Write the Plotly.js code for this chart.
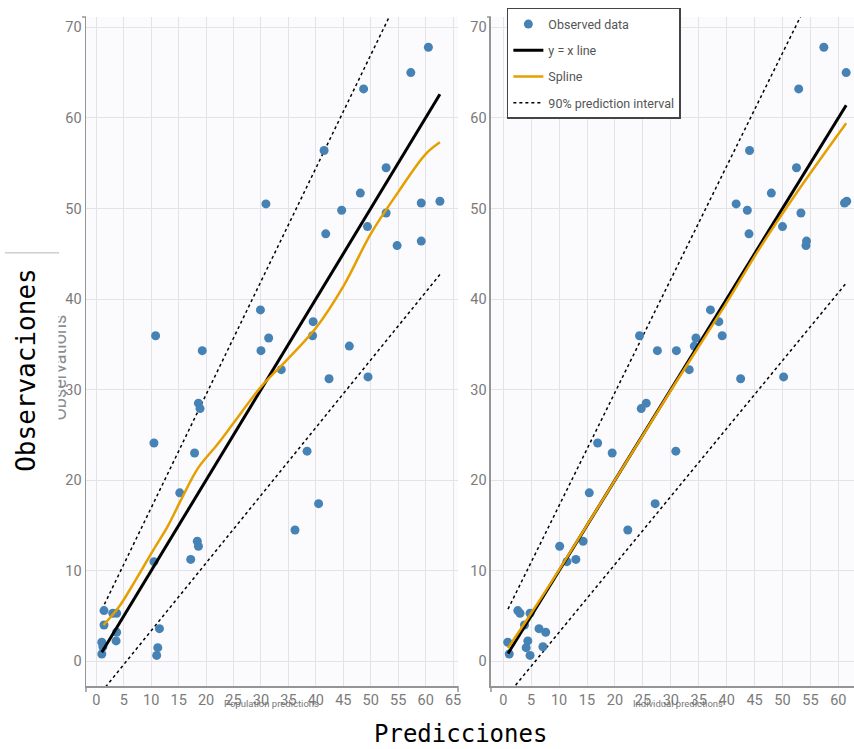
<!DOCTYPE html>
<html>
<head>
<meta charset="utf-8">
<script src="https://cdn.plot.ly/plotly-3.0.1.min.js"></script>
<style>
  html, body { margin: 0; padding: 0; background: #ffffff; }
  #chart { width: 854px; height: 749px; }
</style>
</head>
<body>
<div id="chart"></div>
<script>
// Observed concentrations and the two sets of model predictions (same subjects)
const observations = [67.8, 65.0, 63.2, 56.4, 54.5, 51.7, 50.5, 49.8, 49.5, 50.6,
                      50.8, 48.0, 47.2, 46.4, 45.9, 38.8, 37.5, 35.95, 35.95, 35.7,
                      34.8, 34.3, 34.3, 32.2, 31.2, 31.4, 28.5, 27.9, 24.1, 23.0,
                      23.2, 18.6, 17.4, 14.5, 13.25, 12.7, 11.25, 11.0, 5.6, 5.3,
                      5.3, 4.0, 3.6, 3.2, 2.25, 2.1, 1.5, 1.6, 0.8, 0.65];
const populationPred = [60.5, 57.3, 48.7, 41.5, 52.8, 48.1, 30.9, 44.7, 52.8, 59.2,
                        62.6, 49.4, 41.8, 59.2, 54.8, 29.9, 39.5, 10.8, 39.4, 31.4,
                        46.1, 30.0, 19.3, 33.7, 42.4, 49.5, 18.6, 18.9, 10.5, 17.9,
                        38.4, 15.2, 40.5, 36.2, 18.4, 18.6, 17.2, 10.5, 1.4, 3.0,
                        3.7, 1.4, 11.5, 3.7, 3.6, 1.0, 11.2, 1.2, 1.0, 11.0];
const individualPred = [57.4, 61.4, 52.9, 44.1, 52.5, 48.0, 41.7, 43.7, 53.3, 61.1,
                        61.5, 50.0, 44.0, 54.3, 54.2, 37.1, 38.6, 24.4, 39.2, 34.5,
                        34.2, 31.0, 27.6, 33.3, 42.5, 50.2, 25.6, 24.7, 16.9, 19.5,
                        30.9, 15.4, 27.2, 22.3, 14.3, 10.1, 13.0, 11.4, 2.6, 3.0,
                        4.8, 3.8, 6.4, 7.6, 4.4, 0.8, 4.1, 7.1, 1.07, 4.8];

// Identity line end points (prediction range of each panel)
const identityPop = [1.0, 62.6];
const identityInd = [0.85, 61.4];

// Smoothing spline through observed vs predicted
const splinePopX = [1.3, 4.0, 7.0, 10.4, 13.0, 15.5, 18.5, 22.0, 25.0, 30.0, 35.0, 40.0, 45.0, 50.0, 55.0, 60.0, 62.6];
const splinePopY = [4.0, 5.9, 8.8, 12.3, 14.9, 17.9, 21.3, 23.9, 26.3, 30.3, 33.45, 36.8, 41.4, 47.2, 51.8, 56.0, 57.3];
const splineIndX = [0.85, 5.0, 10.0, 20.0, 30.0, 40.0, 45.7, 52.5, 61.4];
const splineIndY = [1.45, 5.3, 10.1, 20.0, 29.9, 39.6, 45.4, 51.7, 59.4];

// 90% prediction interval bounds
const piPopX = [1.0, 62.6];
const piPopUpper = [5.7, 82.7];
const piPopLower = [-3.35, 42.7];
const piIndX = [0.85, 61.4];
const piIndUpper = [5.76, 81.4];
const piIndLower = [-3.66, 41.75];

const xTickLabelsPop = ['0','5','10','15','20','25','30','35','40','45','50','55','60','65'];
const xTickLabelsInd = ['0','5','10','15','20','25','30','35','40','45','50','55','60'];
const yTickLabels = ['0','10','20','30','40','50','60','70'];

const FONT = "Roboto, 'DejaVu Sans Condensed', sans-serif";
const MONO = "'DejaVu Sans Mono', monospace";
const BLUE = '#4682B4';
const ORANGE = '#E69F00';

function panel(xs, identity, sx, sy, piX, piUp, piLo, xa, ya, legend) {
  return [
    { x: piX, y: piUp, xaxis: xa, yaxis: ya, mode: 'lines', type: 'scatter',
      line: { color: '#000', width: 1.5, dash: 'dot' }, name: '90% prediction interval',
      legendgroup: 'pi', showlegend: legend, hoverinfo: 'skip' },
    { x: piX, y: piLo, xaxis: xa, yaxis: ya, mode: 'lines', type: 'scatter',
      line: { color: '#000', width: 1.5, dash: 'dot' }, name: '90% prediction interval',
      legendgroup: 'pi', showlegend: false, hoverinfo: 'skip' },
    { x: xs, y: observations, xaxis: xa, yaxis: ya, mode: 'markers', type: 'scatter',
      marker: { color: BLUE, size: 9 }, name: 'Observed data',
      legendgroup: 'obs', showlegend: legend },
    { x: identity, y: identity, xaxis: xa, yaxis: ya, mode: 'lines', type: 'scatter',
      line: { color: '#000', width: 3 }, name: 'y = x line',
      legendgroup: 'id', showlegend: legend },
    { x: sx, y: sy, xaxis: xa, yaxis: ya, mode: 'lines', type: 'scatter',
      line: { color: ORANGE, width: 2.5, shape: 'spline' }, name: 'Spline',
      legendgroup: 'sp', showlegend: legend }
  ];
}

const traces = [].concat(
  panel(populationPred, identityPop, splinePopX, splinePopY, piPopX, piPopUpper, piPopLower, 'x', 'y', true),
  panel(individualPred, identityInd, splineIndX, splineIndY, piIndX, piIndUpper, piIndLower, 'x2', 'y2', false)
);
// legend order: observed, identity, spline, interval
traces[0].legendrank = 4; traces[2].legendrank = 1; traces[3].legendrank = 2; traces[4].legendrank = 3;

const tickFont = { family: FONT, size: 14.5, color: '#7a7a7a' };
function axis(extra) {
  return Object.assign({
    showgrid: true, gridcolor: '#e3e3e6', gridwidth: 1,
    showline: true, linecolor: '#959595', linewidth: 1.5,
    zeroline: false, ticks: '', tickfont: tickFont, fixedrange: true
  }, extra);
}
const yVals = yTickLabels.map(Number);

const layout = {
  width: 854, height: 749,
  margin: { l: 86, r: 0, t: 17, b: 63, pad: 0 },
  paper_bgcolor: '#ffffff',
  plot_bgcolor: '#fbfbfd',
  showlegend: true,
  legend: {
    x: 0.548, y: 1.0135, xanchor: 'left', yanchor: 'top',
    bgcolor: '#ffffff', bordercolor: '#444', borderwidth: 1.5,
    font: { family: FONT, size: 12.5, color: '#555' },
    traceorder: 'grouped', tracegroupgap: 7
  },
  xaxis: axis({ domain: [0, 0.4844], range: [-1.88, 65.9], anchor: 'y',
                tickmode: 'array', tickvals: xTickLabelsPop.map(Number), ticktext: xTickLabelsPop }),
  yaxis: axis({ range: [-2.73, 71.14], anchor: 'x',
                tickmode: 'array', tickvals: yVals, ticktext: yTickLabels }),
  xaxis2: axis({ domain: [0.5273, 1], range: [-2.2, 62.8], anchor: 'y2',
                 tickmode: 'array', tickvals: xTickLabelsInd.map(Number), ticktext: xTickLabelsInd }),
  yaxis2: axis({ range: [-2.73, 71.14], anchor: 'x2',
                 tickmode: 'array', tickvals: yVals, ticktext: yTickLabels }),
  shapes: [
    // axis end caps
    { type: 'line', xref: 'paper', yref: 'paper', x0: -0.0052, x1: 0, y0: 1, y1: 1, line: { color: '#959595', width: 1.5 } },
    { type: 'line', xref: 'paper', yref: 'paper', x0: 0.5221, x1: 0.5273, y0: 1, y1: 1, line: { color: '#959595', width: 1.5 } },
    { type: 'line', xref: 'paper', yref: 'paper', x0: 0, x1: 0, y0: 0, y1: -0.009, line: { color: '#959595', width: 1.5 } },
    { type: 'line', xref: 'paper', yref: 'paper', x0: 0.4844, x1: 0.4844, y0: 0, y1: -0.009, line: { color: '#959595', width: 1.5 } },
    { type: 'line', xref: 'paper', yref: 'paper', x0: 0.5273, x1: 0.5273, y0: 0, y1: -0.009, line: { color: '#959595', width: 1.5 } },
    // rule above the vertical label
    { type: 'line', xref: 'paper', yref: 'paper', x0: -0.1055, x1: -0.0352, y0: 0.6472, y1: 0.6472, line: { color: '#c0c0c0', width: 1.5 } }
  ],
  annotations: [
    { text: 'Population predictions', xref: 'paper', yref: 'paper', x: 0.2409, y: -0.0259,
      xanchor: 'center', yanchor: 'middle', showarrow: false, font: { family: FONT, size: 9.5, color: '#777' } },
    { text: 'Individual predictions', xref: 'paper', yref: 'paper', x: 0.7704, y: -0.0259,
      xanchor: 'center', yanchor: 'middle', showarrow: false, font: { family: FONT, size: 9.5, color: '#777' } },
    { text: 'Observations', xref: 'paper', yref: 'paper', x: -0.0345, y: 0.4753, textangle: -90,
      xanchor: 'center', yanchor: 'middle', showarrow: false, font: { family: 'Roboto, sans-serif', size: 18, color: '#8c8c8c' } },
    { text: 'Observaciones', xref: 'paper', yref: 'paper', x: -0.0781, y: 0.4723, textangle: -90,
      width: 232, height: 64, bgcolor: '#ffffff', borderpad: 0,
      xanchor: 'center', yanchor: 'middle', showarrow: false, font: { family: MONO, size: 26, color: '#000' } },
    { text: 'Predicciones', xref: 'paper', yref: 'paper', x: 0.487, y: -0.0723,
      xanchor: 'center', yanchor: 'middle', showarrow: false, font: { family: MONO, size: 24, color: '#000' } }
  ]
};

Plotly.newPlot('chart', traces, layout, { displayModeBar: false, staticPlot: true });
</script>
</body>
</html>
